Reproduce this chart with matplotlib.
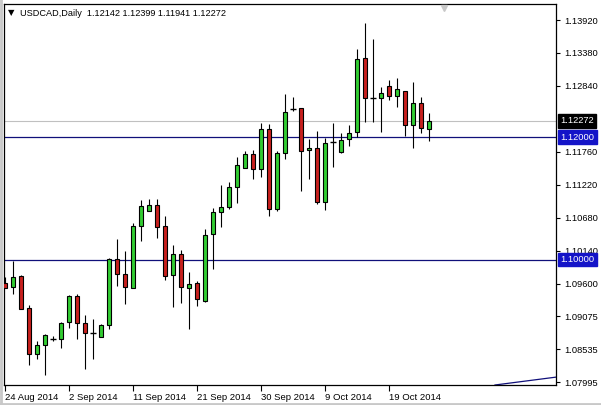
import numpy as np
import matplotlib
matplotlib.use("Agg")
import matplotlib.pyplot as plt
import matplotlib.transforms as mtransforms
from matplotlib.lines import Line2D

# USDCAD daily bars, 24 Aug 2014 - 24 Oct 2014
opens = [1.09615, 1.09550, 1.09730, 1.09206, 1.08453, 1.08601, 1.08699, 1.08699, 1.08977, 1.09403,
         1.08961, 1.08797, 1.08731, 1.08928, 1.10008, 1.09763, 1.09533, 1.10548, 1.10794, 1.10892,
         1.10548, 1.09746, 1.10090, 1.09533, 1.09615, 1.09321, 1.10417, 1.10777, 1.10859, 1.11187,
         1.11498, 1.11727, 1.11481, 1.12136, 1.10826, 1.11743, 1.12463, 1.12480, 1.11792, 1.11825,
         1.10941, 1.11923, 1.11759, 1.11972, 1.12087, 1.13298, 1.12643, 1.12643, 1.12840, 1.12676,
         1.12758, 1.12201, 1.12561, 1.12142]
closes = [1.09533, 1.09713, 1.09190, 1.08453, 1.08601, 1.08764, 1.08699, 1.08961, 1.09403, 1.08961,
          1.08797, 1.08797, 1.08928, 1.10008, 1.09763, 1.09550, 1.10548, 1.10876, 1.10892, 1.10532,
          1.09730, 1.10090, 1.09550, 1.09599, 1.09353, 1.10401, 1.10777, 1.10859, 1.11187, 1.11547,
          1.11727, 1.11481, 1.12136, 1.10826, 1.11743, 1.12414, 1.12463, 1.11776, 1.11825, 1.10941,
          1.11907, 1.11923, 1.11956, 1.12070, 1.13282, 1.12643, 1.12643, 1.12725, 1.12676, 1.12791,
          1.12201, 1.12561, 1.12150, 1.12272]
highs = [1.09713, 1.09975, 1.09746, 1.09255, 1.08666, 1.08781, 1.08748, 1.08977, 1.09419, 1.09435,
         1.09092, 1.09026, 1.08944, 1.10024, 1.10335, 1.10139, 1.10597, 1.10974, 1.10990, 1.10990,
         1.10712, 1.10237, 1.10155, 1.09795, 1.09648, 1.10499, 1.10843, 1.11219, 1.11268, 1.11678,
         1.11776, 1.11792, 1.12234, 1.12218, 1.11776, 1.12709, 1.12660, 1.12480, 1.11972, 1.12103,
         1.11989, 1.12234, 1.12070, 1.12201, 1.13445, 1.13871, 1.13609, 1.12823, 1.12938, 1.12971,
         1.12758, 1.12905, 1.12660, 1.12399]
lows = [1.09533, 1.09435, 1.09190, 1.08273, 1.08371, 1.08110, 1.08666, 1.08551, 1.08879, 1.08699,
        1.08208, 1.08371, 1.08731, 1.08862, 1.09566, 1.09272, 1.09533, 1.10303, 1.10794, 1.10352,
        1.09664, 1.09223, 1.09288, 1.08862, 1.09239, 1.09304, 1.09844, 1.10532, 1.10826, 1.10925,
        1.11498, 1.11318, 1.11350, 1.10712, 1.10794, 1.11645, 1.12430, 1.11121, 1.11318, 1.10908,
        1.10810, 1.11514, 1.11743, 1.11858, 1.12005, 1.12250, 1.12250, 1.12087, 1.12611, 1.12496,
        1.12021, 1.11825, 1.12070, 1.11941]

date_idx = [0, 8, 16, 24, 32, 40, 48]
date_labels = ["24 Aug 2014", "2 Sep 2014", "11 Sep 2014", "21 Sep 2014",
               "30 Sep 2014", "9 Oct 2014", "19 Oct 2014"]
price_ticks = [1.13920, 1.13380, 1.12840, 1.11760, 1.11220, 1.10680,
               1.10140, 1.09600, 1.09075, 1.08535, 1.07995]
levels = [1.12000, 1.10000]
last_price = 1.12272
trend_x = [61.25, 69.0]
trend_y = [1.07946, 1.08077]

GREEN = "#32cd32"
RED = "#c8201e"
NAVY = "#10107a"

o = np.array(opens)
c = np.array(closes)
h = np.array(highs)
l = np.array(lows)
x = np.arange(len(o))

plt.rcParams['font.family'] = ['Liberation Sans', 'DejaVu Sans']

fig = plt.figure(figsize=(6.01, 4.05), dpi=100)
fig.patch.set_facecolor("white")
ax = fig.add_axes([4 / 601, 1 - 385 / 405, 552 / 601, 381 / 405])
ax.set_facecolor("white")

# horizontal levels
ax.axhline(last_price, color="#c0c0c0", lw=0.8, zorder=1)
for lv in levels:
    ax.axhline(lv, color=NAVY, lw=0.9, zorder=1)
ax.plot(trend_x, trend_y, color=NAVY, lw=0.9, zorder=1)

# candles
ax.vlines(x, l, h, color="black", lw=0.8, zorder=2)
doji = o == c
body = ~doji
cols = np.where(c > o, GREEN, RED)
ax.bar(x[body], np.abs(c - o)[body], bottom=np.minimum(o, c)[body], width=0.62,
       color=cols[body], edgecolor="black", linewidth=0.8, zorder=3)
ax.hlines(o[doji], x[doji] - 0.33, x[doji] + 0.33, color="black", lw=1.0, zorder=3)

ax.set_xlim(-0.125, 68.875)
ax.set_ylim(1.07946, 1.14182)

for s in ax.spines.values():
    s.set_color("black")
    s.set_linewidth(0.9)

ax.yaxis.tick_right()
ax.set_yticks(price_ticks)
ax.set_yticklabels(["%.5f" % v for v in price_ticks])
ax.tick_params(axis="y", direction="out", length=3, width=0.8, pad=3,
               labelsize=6.7, colors="black")
ax.set_xticks(date_idx)
ax.set_xticklabels(date_labels, ha="left")
ax.tick_params(axis="x", direction="out", length=4, width=0.8, pad=2,
               labelsize=6.8, colors="black")

# price boxes on the right axis
trans = mtransforms.blended_transform_factory(ax.transAxes, ax.transData)
ax.text(1.008, last_price, "%.5f" % last_price, transform=trans, fontsize=6.7,
        color="white", va="center", ha="left", zorder=10, clip_on=False,
        bbox=dict(boxstyle="square,pad=0.25", fc="black", ec="black"))
for lv in levels:
    ax.text(1.008, lv, "%.5f" % lv, transform=trans, fontsize=6.7,
            color="white", va="center", ha="left", zorder=10, clip_on=False,
            bbox=dict(boxstyle="square,pad=0.25", fc="#1414c8", ec="#1414c8"))

# header
fig.text(8 / 601, 1 - 13 / 405, "\u25bc", fontsize=6, color="black", va="center",
         family=["DejaVu Sans"])
fig.text(20 / 601, 1 - 13 / 405, "USDCAD,Daily  1.12142 1.12399 1.11941 1.12272",
         fontsize=6.6, color="black", va="center")

# chart shift marker
ax.plot([54.9], [0.99], marker="v", color="#c8c8c8", markersize=5,
        transform=mtransforms.blended_transform_factory(ax.transData, ax.transAxes),
        clip_on=False, zorder=5)

# light frame left and bottom
fig.add_artist(Line2D([1 / 601, 1 / 601], [0, 1], color="#c8c8c8", lw=2, transform=fig.transFigure))
fig.add_artist(Line2D([0, 1], [1 / 405, 1 / 405], color="#c8c8c8", lw=2, transform=fig.transFigure))

fig.savefig("out.png", dpi=100, facecolor="white")
